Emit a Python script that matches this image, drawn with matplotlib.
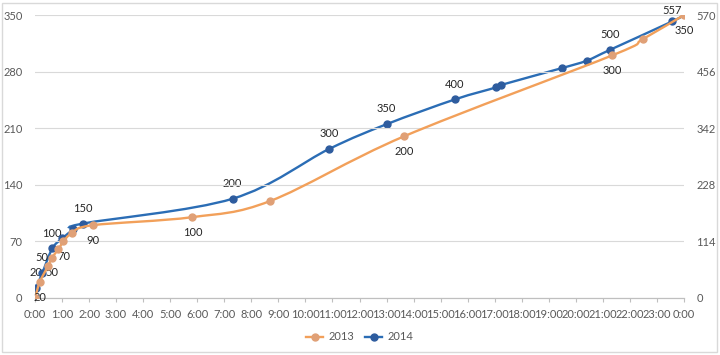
import matplotlib.pyplot as plt
from matplotlib.path import Path
from matplotlib.patches import PathPatch, Rectangle
from matplotlib.lines import Line2D

plt.rcParams['font.family'] = ['Lato', 'DejaVu Sans']

# 2013 series (left axis)
hours_2013 = [0, 0.18, 0.49, 0.63, 0.86, 1.05, 1.36, 2.13, 5.82, 8.7, 13.65, 21.34, 22.47, 24.0]
vals_2013 = [0, 20, 40, 50, 60, 70, 80, 90, 100, 120, 200, 300, 320, 350]
labels_2013 = [20, 50, 70, 90, 100, 200, 300, 350]

# 2014 series (right axis)
hours_2014 = [0, 0.05, 0.27, 0.64, 1.01, 1.42, 1.78, 7.31, 10.87, 13.0, 15.53,
              17.04, 17.23, 19.48, 20.4, 21.27, 23.56, 24.0]
vals_2014 = [0, 20, 50, 100, 120, 138, 150, 200, 300, 350, 400,
             424, 429, 463, 478, 500, 557, 570]
labels_2014 = [20, 50, 100, 150, 200, 300, 350, 400, 500, 557]

hour_labels = [f'{h % 24}:00' for h in range(25)]
left_ticks = [0, 70, 140, 210, 280, 350]
right_ticks = [0, 114, 228, 342, 456, 570]

c13_line, c13_mark = '#F2A05A', '#E0A076'
c14_line, c14_mark = '#2B6DB5', '#2E5C9E'
grey = '#595959'
fs = 8


def smooth_path(xs, ys):
    # excel-like smoothed line: catmull-rom turned into cubic beziers
    pts = list(zip(xs, ys))
    verts = [pts[0]]
    codes = [Path.MOVETO]
    n = len(pts)
    for i in range(n - 1):
        p0 = pts[i - 1] if i > 0 else pts[i]
        p1 = pts[i]
        p2 = pts[i + 1]
        p3 = pts[i + 2] if i + 2 < n else pts[i + 1]
        c1 = (p1[0] + (p2[0] - p0[0]) / 6, p1[1] + (p2[1] - p0[1]) / 6)
        c2 = (p2[0] - (p3[0] - p1[0]) / 6, p2[1] - (p3[1] - p1[1]) / 6)
        verts += [c1, c2, p2]
        codes += [Path.CURVE4] * 3
    return Path(verts, codes)


fig = plt.figure(figsize=(7.2, 3.55), dpi=100)
ax = fig.add_axes([35 / 720, 57 / 355, 649 / 720, 283 / 355])
ax2 = ax.twinx()

ax.set_xlim(0, 24)
ax.set_ylim(0, 350)
ax2.set_ylim(0, 570)

ax.add_patch(PathPatch(smooth_path(hours_2013, vals_2013), fill=False,
                       edgecolor=c13_line, lw=1.7, zorder=3))
ax.plot(hours_2013, vals_2013, 'o', ms=5, mfc=c13_mark, mec=c13_mark, zorder=4)

ax2.add_patch(PathPatch(smooth_path(hours_2014, vals_2014), fill=False,
                        edgecolor=c14_line, lw=1.7, zorder=3))
ax2.plot(hours_2014[:-1], vals_2014[:-1], 'o', ms=5, mfc=c14_mark, mec=c14_mark, zorder=4)

for h, v in zip(hours_2013, vals_2013):
    if v in labels_2013:
        ax.annotate(str(v), (h, v), xytext=(0, -11), textcoords='offset points',
                    ha='center', va='center', fontsize=fs, color='#262626')
for h, v in zip(hours_2014, vals_2014):
    if v in labels_2014:
        dy = 8 if v == 557 else 11
        ax2.annotate(str(v), (h, v), xytext=(0, dy), textcoords='offset points',
                     ha='center', va='center', fontsize=fs, color='#262626')

ax.set_xticks(range(25))
ax.set_xticklabels(hour_labels)
ax.set_yticks(left_ticks)
ax2.set_yticks(right_ticks)
ax.grid(axis='y', color='#D9D9D9', lw=0.8)
ax.set_axisbelow(True)

for a in (ax, ax2):
    for s in ('top', 'left', 'right'):
        a.spines[s].set_visible(False)
    a.spines['bottom'].set_color('#BFBFBF')
ax.tick_params(axis='x', length=3, color='#BFBFBF', labelsize=fs, labelcolor=grey, pad=5)
ax.tick_params(axis='y', length=0, labelsize=fs, labelcolor=grey, pad=9)
ax2.tick_params(axis='y', length=0, labelsize=fs, labelcolor=grey, pad=9)

ax.set_zorder(ax2.get_zorder() + 1)
ax.patch.set_visible(False)

handles = [Line2D([], [], color=c13_line, lw=1.7, marker='o', ms=5, mfc=c13_mark, mec=c13_mark),
           Line2D([], [], color=c14_line, lw=1.7, marker='o', ms=5, mfc=c14_mark, mec=c14_mark)]
fig.legend(handles, ['2013', '2014'], loc='center', bbox_to_anchor=(0.5, 18 / 355), ncol=2,
           frameon=False, fontsize=fs, handlelength=1.5, columnspacing=1.0, handletextpad=0.5,
           labelcolor=grey)

fig.patches.append(Rectangle((2 / 720, 3 / 355), 715 / 720, 349 / 355, transform=fig.transFigure,
                             fill=False, edgecolor='#D9D9D9', lw=1))

fig.savefig('out.png', dpi=100)
